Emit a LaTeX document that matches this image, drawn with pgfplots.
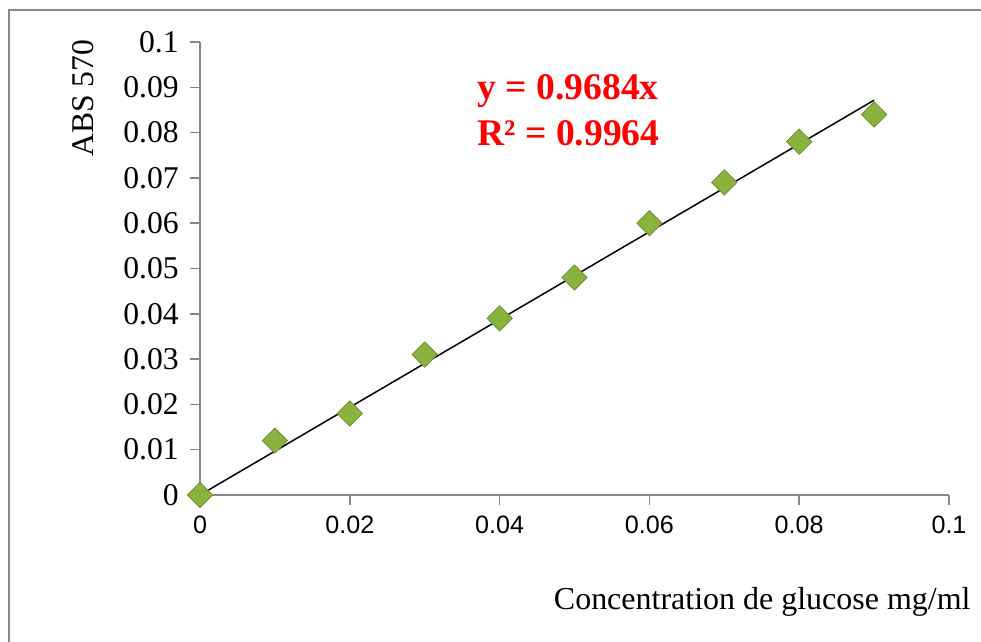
\documentclass[border=0pt]{standalone}
\usepackage{pgfplots}
\pgfplotsset{compat=1.18}
\usepackage{fontspec}
\setmainfont{Liberation Serif}
\newfontfamily\arialf{Liberation Sans}
\definecolor{frameGray}{RGB}{135,135,135}
\definecolor{axGray}{RGB}{134,134,134}
\definecolor{mkFill}{RGB}{137,178,62}
\definecolor{mkEdge}{RGB}{104,140,44}

\begin{document}
\begin{tikzpicture}
  % page = 981 x 642 px, 1 px = 0.02cm
  \useasboundingbox (0,0) rectangle (19.62cm,12.84cm);
  \draw[frameGray, line width=1.1pt] (0.18cm,0) -- (0.18cm,12.64cm) -- (19.62cm,12.64cm);

  \begin{axis}[
      at={(4cm,2.94cm)}, anchor=south west,
      scale only axis,
      width=14.98cm, height=9.06cm,
      xmin=0, xmax=0.1, ymin=0, ymax=0.1,
      axis lines=left,
      axis line style={axGray, line width=0.9pt, -},
      xtick={0,0.02,0.04,0.06,0.08,0.1},
      ytick={0,0.01,0.02,0.03,0.04,0.05,0.06,0.07,0.08,0.09,0.1},
      tick align=outside,
      major tick length=5.6pt,
      tick style={axGray, line width=0.9pt},
      /pgf/number format/assume math mode=true,
      /pgf/number format/fixed,
      /pgf/number format/precision=2,
      xticklabel style={font=\arialf\fontsize{14.3}{16}\selectfont, yshift=-3pt},
      yticklabel style={font=\fontsize{18}{20}\selectfont, xshift=-3pt},
      xlabel={Concentration de glucose mg/ml},
      ylabel={ABS 570},
      xlabel style={font=\fontsize{18.2}{20}\selectfont, at={(axis description cs:1.037,-0.235)}, anchor=east},
      ylabel style={font=\fontsize{18}{20}\selectfont, at={(axis description cs:-0.156,0.876)}, anchor=center},
      clip=false,
  ]

  % linear trend line y = 0.9684x
  \addplot[black, line width=0.85pt] coordinates {(0,0) (0.09,0.087156)};

  % measured absorbance
  \addplot[
      only marks,
      mark=square*,
      mark size=5.1pt,
      mark options={rotate=45, fill=mkFill, draw=mkEdge, line width=0.4pt},
  ] coordinates {
      (0.00,0.000) (0.01,0.012) (0.02,0.018) (0.03,0.031) (0.04,0.039)
      (0.05,0.048) (0.06,0.060) (0.07,0.069) (0.08,0.078) (0.09,0.084)
  };

  \end{axis}

  \node[anchor=west, text=red, font=\bfseries\fontsize{21.4}{24}\selectfont, inner sep=0pt]
      at (9.54cm,11.02cm) {y = 0.9684x};
  \node[anchor=west, text=red, font=\bfseries\fontsize{21.4}{24}\selectfont, inner sep=0pt]
      at (9.54cm,10.17cm) {R² = 0.9964};
\end{tikzpicture}
\end{document}
